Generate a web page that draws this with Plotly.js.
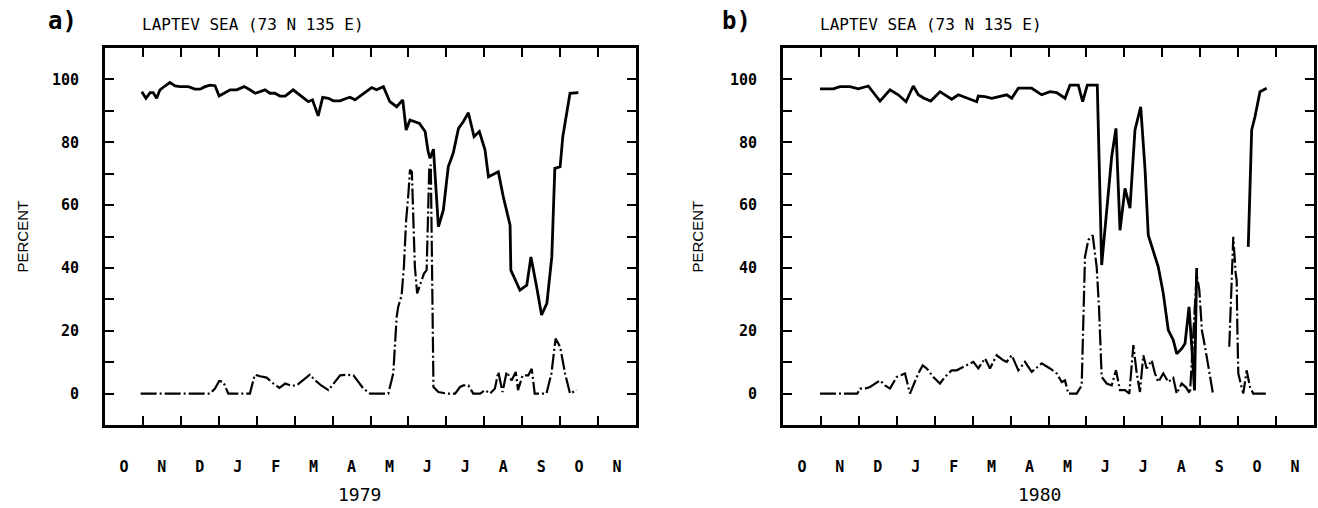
<!DOCTYPE html>
<html>
<head>
<meta charset="utf-8">
<script src="https://cdn.plot.ly/plotly-3.0.1.min.js"></script>
<style>html,body{margin:0;padding:0;background:#fff;}#chart{width:1318px;height:508px;}</style>
</head>
<body>
<div id="chart"></div>
<script>
// x values: months since 1 October (0 = 1 Oct, 14 = end of following November)
const monthLabels = ["O","N","D","J","F","M","A","M","J","J","A","S","O","N"];
const yTickVals = [0,20,40,60,80,100];
const yMinorVals = [10,30,50,70,90];
const panelTitle = "LAPTEV SEA (73 N 135 E)";
const yearA = "1979";
const yearB = "1980";

// Panel a (1979) – solid curve
const aSolidX = [0.97,1.08,1.19,1.27,1.36,1.45,1.58,1.71,1.85,1.98,2.20,2.37,2.51,2.64,2.77,2.90,3.01,3.16,3.30,3.47,3.67,3.82,3.96,4.09,4.22,4.35,4.48,4.61,4.75,4.96,5.14,5.36,5.47,5.62,5.74,5.89,6.02,6.20,6.37,6.46,6.59,6.77,6.90,7.03,7.16,7.34,7.51,7.69,7.85,7.94,8.04,8.17,8.29,8.44,8.52,8.57,8.66,8.79,8.92,9.05,9.18,9.32,9.45,9.58,9.73,9.87,10.02,10.11,10.37,10.50,10.68,10.70,10.94,11.12,11.23,11.38,11.51,11.65,11.78,11.86,12.00,12.07,12.26,12.48];
const aSolidY = [96.1,94.0,95.8,95.8,94.0,96.7,97.9,99.0,97.9,97.7,97.7,96.9,96.9,97.7,98.2,98.0,94.7,95.8,96.7,96.7,97.7,96.7,95.6,96.1,96.7,95.6,95.6,94.7,94.7,96.7,95.1,92.9,93.5,88.4,94.3,94.0,93.2,93.2,94.0,94.3,93.5,95.1,96.1,97.4,96.7,97.7,92.9,91.3,93.5,83.9,87.1,86.6,86.0,83.4,77.0,74.9,77.8,53.1,58.4,72.2,76.5,84.4,86.6,89.4,81.8,83.4,77.5,69.0,70.6,62.7,53.6,39.3,32.9,34.5,43.5,34.0,25.0,28.7,43.5,71.7,72.2,81.8,95.6,95.8];

// Panel a (1979) – dash-dot curve
const aDashX = [0.94,1.49,1.80,2.77,2.90,3.01,3.12,3.25,3.82,3.95,4.09,4.26,4.44,4.60,4.75,4.92,5.05,5.23,5.40,5.54,5.71,5.89,6.02,6.20,6.37,6.55,6.68,6.81,6.99,7.25,7.47,7.60,7.69,7.73,7.82,7.88,7.94,8.00,8.04,8.09,8.13,8.17,8.23,8.35,8.41,8.48,8.52,8.55,8.59,8.63,8.66,8.79,9.01,9.23,9.36,9.45,9.58,9.71,9.89,10.02,10.15,10.28,10.37,10.48,10.59,10.72,10.83,10.89,11.01,11.16,11.25,11.33,11.64,11.77,11.88,12.00,12.13,12.26,12.44];
const aDashY = [0,0,0,0,1.6,4.0,3.7,0,0,6.0,5.5,5.1,3.2,1.8,3.2,2.5,2.6,4.2,6.0,4.2,2.5,1.1,3.2,5.8,6.0,5.8,3.7,1.6,0,0,0,6.4,24.4,27.6,31.3,40.3,55.2,63.7,71.2,70.6,55.2,40.3,31.9,36.1,38.2,39.3,56.3,72.2,72.8,25.5,2.1,0.5,0,0,2.1,2.6,2.6,0,0,1.1,0,1.6,6.9,0.5,6.9,4.2,6.9,1.1,5.8,5.8,7.9,0,0,6.4,17.5,14.9,6.4,0,1.1];

// Panel b (1980) – solid curve (null = missing data)
const bSolidX = [0.975,1.326,1.503,1.766,1.985,2.249,2.557,2.821,3.040,3.243,3.435,3.567,3.717,3.894,4.139,4.448,4.622,4.885,5.107,5.149,5.326,5.502,5.721,5.898,6.030,6.204,6.557,6.821,7.039,7.216,7.435,7.567,7.786,7.901,8.023,8.286,8.402,8.534,8.666,8.779,8.885,9.017,9.148,9.280,9.431,9.544,9.631,9.895,10.026,10.158,10.290,10.380,10.512,10.599,10.705,10.776,10.850,10.907,11.6,12.267,12.312,12.357,12.444,12.576,12.752];
const bSolidY = [97.0,97.0,97.7,97.7,97.0,97.9,93.1,96.7,95.1,92.9,97.9,95.1,94.0,93.1,96.1,93.7,95.1,94.0,92.9,94.7,94.5,94.0,94.5,95.1,94.0,97.2,97.2,95.1,96.1,95.8,94.0,98.2,98.2,92.9,98.2,98.2,40.9,59.5,75.4,84.4,52.0,65.3,59.0,83.9,91.3,71.7,50.4,40.3,31.9,20.2,17.0,12.7,14.3,15.9,27.6,15.0,1.0,40.0,null,46.7,68.0,83.9,88.1,96.1,97.2];

// Panel b (1980) – dash-dot curve (null = missing data)
const bDashX = [0.975,1.959,2.030,2.162,2.294,2.557,2.689,2.821,2.998,3.216,3.348,3.480,3.567,3.683,3.789,3.963,4.139,4.271,4.448,4.580,4.754,5.017,5.149,5.326,5.457,5.634,5.808,5.898,6.030,6.204,6.380,6.557,6.821,7.039,7.216,7.348,7.435,7.522,7.743,7.875,7.962,8.049,8.165,8.270,8.331,8.402,8.534,8.666,8.779,8.885,9.017,9.131,9.237,9.327,9.412,9.499,9.588,9.720,9.807,9.895,10.026,10.158,10.290,10.380,10.512,10.625,10.730,10.907,10.976,11.046,11.125,11.231,11.336,11.6,11.766,11.803,11.830,11.872,11.935,11.962,11.977,12.004,12.067,12.136,12.224,12.312,12.399,12.794];
const bDashY = [0,0,1.6,1.6,2.1,4.2,2.6,1.6,5.3,6.4,0,3.7,6.4,9.0,8.0,5.3,3.2,5.3,7.4,7.4,8.5,10.1,8.0,11.2,8.0,12.2,10.6,10.1,12.2,7.4,10.1,6.9,9.6,8.0,6.4,3.7,4.2,0,0,2.6,43.5,48.9,50.4,40.3,27.6,5.3,3.2,2.6,7.4,1.1,1.1,0,15.4,6.4,0.5,12.2,8.0,10.6,6.4,3.7,6.4,3.7,5.0,0,3.2,2.0,0,38,33,20,15,7,0,null,14.9,29.7,38.2,49.9,38.2,36.1,22.3,6.4,3.2,0,7.4,2.1,0,0];

const monthCenters = monthLabels.map((_, i) => i + 0.5);
const monthBounds = Array.from({length: 13}, (_, i) => i + 1);

const solidLine = {color: '#000', width: 2.8};
const dashLine = {color: '#000', width: 2.2, dash: '16px,3px,2px,3px'};

const traces = [
  {x: aSolidX, y: aSolidY, xaxis: 'x', yaxis: 'y', mode: 'lines', line: solidLine, connectgaps: false, hoverinfo: 'skip'},
  {x: aDashX, y: aDashY, xaxis: 'x', yaxis: 'y', mode: 'lines', line: dashLine, connectgaps: false, hoverinfo: 'skip'},
  {x: bSolidX, y: bSolidY, xaxis: 'x2', yaxis: 'y2', mode: 'lines', line: solidLine, connectgaps: false, hoverinfo: 'skip'},
  {x: bDashX, y: bDashY, xaxis: 'x2', yaxis: 'y2', mode: 'lines', line: dashLine, connectgaps: false, hoverinfo: 'skip'}
];

const W = 1318, H = 508;
const tickFont = {family: 'DejaVu Sans Mono', size: 15, color: '#000', weight: 'bold'};

function xAxis(domain, anchor) {
  return {
    domain: domain, anchor: anchor, range: [0, 14],
    tickmode: 'array', tickvals: monthCenters, ticktext: monthLabels,
    ticks: '', showgrid: false, zeroline: false,
    showline: true, linecolor: '#000', linewidth: 3, mirror: 'ticks',
    tickfont: tickFont, ticklabelstandoff: 26,
    minor: {tickmode: 'array', tickvals: monthBounds, ticks: 'inside', ticklen: 9, tickwidth: 2, tickcolor: '#000', showgrid: false},
    fixedrange: true
  };
}
function yAxis(domain, anchor) {
  return {
    domain: domain, anchor: anchor, range: [-10, 110],
    tickmode: 'array', tickvals: yTickVals, ticktext: yTickVals.map(String),
    ticks: 'inside', ticklen: 9, tickwidth: 2, tickcolor: '#000',
    showgrid: false, zeroline: false,
    showline: true, linecolor: '#000', linewidth: 3, mirror: 'ticks',
    tickfont: tickFont, ticklabelstandoff: 20,
    minor: {tickmode: 'array', tickvals: yMinorVals, ticks: 'inside', ticklen: 9, tickwidth: 2, tickcolor: '#000', showgrid: false},
    fixedrange: true
  };
}

const yDom = [(H - 425) / H, (H - 48) / H];
const layout = {
  width: W, height: H,
  margin: {l: 0, r: 0, t: 0, b: 0},
  paper_bgcolor: '#fff', plot_bgcolor: '#fff',
  showlegend: false,
  xaxis: xAxis([105 / W, 636 / W], 'y'),
  yaxis: yAxis(yDom, 'x'),
  xaxis2: xAxis([783 / W, 1314 / W], 'y2'),
  yaxis2: yAxis(yDom, 'x2'),
  annotations: [
    {text: 'a)', x: 46 / W, y: (H - 21) / H, xref: 'paper', yref: 'paper', xanchor: 'left', yanchor: 'middle', showarrow: false, font: {family: 'DejaVu Sans Mono', size: 24, color: '#000', weight: 'bold'}},
    {text: panelTitle, x: 140 / W, y: (H - 24) / H, xref: 'paper', yref: 'paper', xanchor: 'left', yanchor: 'middle', showarrow: false, font: {family: 'DejaVu Sans Mono', size: 16, color: '#000'}},
    {text: 'b)', x: 720 / W, y: (H - 21) / H, xref: 'paper', yref: 'paper', xanchor: 'left', yanchor: 'middle', showarrow: false, font: {family: 'DejaVu Sans Mono', size: 24, color: '#000', weight: 'bold'}},
    {text: panelTitle, x: 818 / W, y: (H - 24) / H, xref: 'paper', yref: 'paper', xanchor: 'left', yanchor: 'middle', showarrow: false, font: {family: 'DejaVu Sans Mono', size: 16, color: '#000'}},
    {text: yearA, x: 360 / W, y: (H - 494) / H, xref: 'paper', yref: 'paper', xanchor: 'center', yanchor: 'middle', showarrow: false, font: {family: 'DejaVu Sans Mono', size: 18, color: '#000'}},
    {text: yearB, x: 1039 / W, y: (H - 494) / H, xref: 'paper', yref: 'paper', xanchor: 'center', yanchor: 'middle', showarrow: false, font: {family: 'DejaVu Sans Mono', size: 18, color: '#000'}},
    {text: 'PERCENT', x: 22 / W, y: (H - 236.5) / H, xref: 'paper', yref: 'paper', xanchor: 'center', yanchor: 'middle', textangle: -90, showarrow: false, font: {family: 'Liberation Sans', size: 15, color: '#000'}},
    {text: 'PERCENT', x: 697 / W, y: (H - 236.5) / H, xref: 'paper', yref: 'paper', xanchor: 'center', yanchor: 'middle', textangle: -90, showarrow: false, font: {family: 'Liberation Sans', size: 15, color: '#000'}}
  ]
};

Plotly.newPlot('chart', traces, layout, {staticPlot: true, displayModeBar: false});
</script>
</body>
</html>
